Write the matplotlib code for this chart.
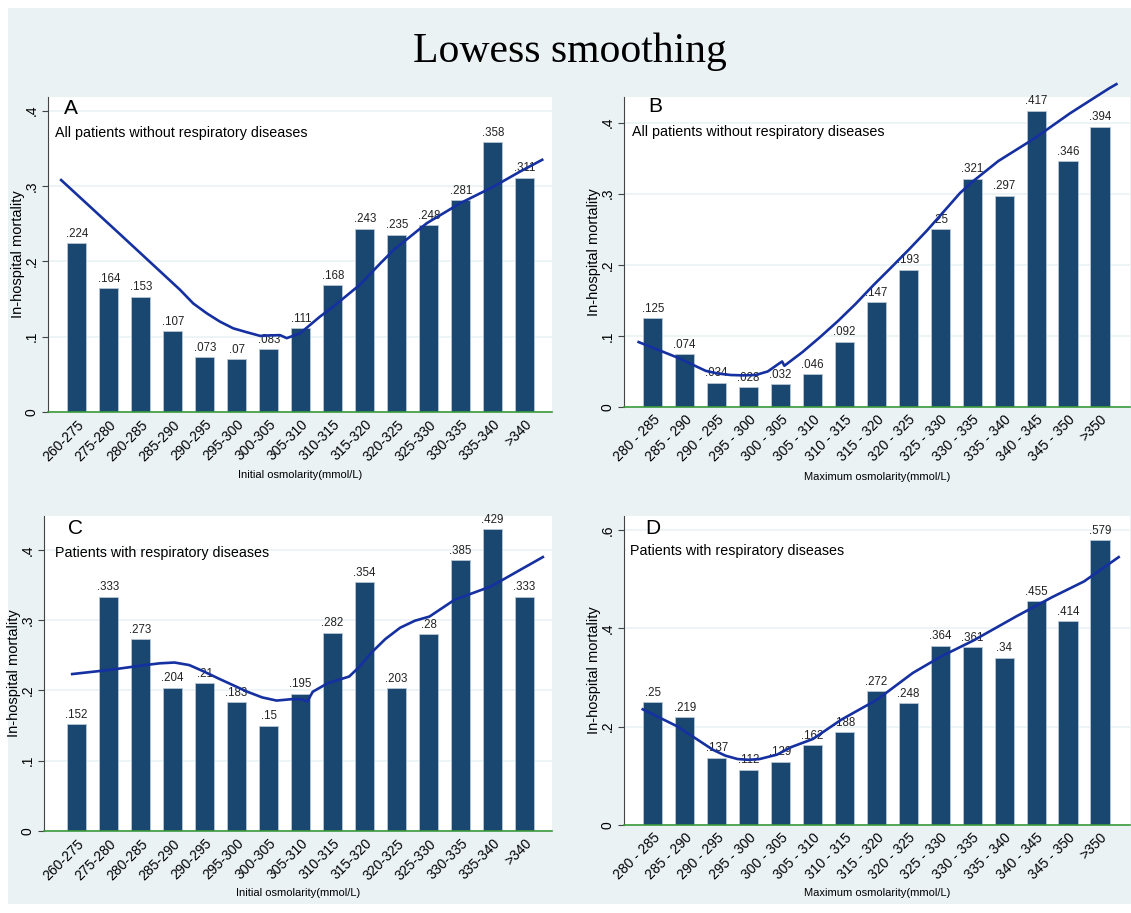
import matplotlib.pyplot as plt
from matplotlib.patches import Rectangle

W, H = 1131, 913

# osmolarity bins
init_bins = ['260-275', '275-280', '280-285', '285-290', '290-295', '295-300',
             '300-305', '305-310', '310-315', '315-320', '320-325', '325-330',
             '330-335', '335-340', '>340']
max_bins = ['280 - 285', '285 - 290', '290 - 295', '295 - 300', '300 - 305',
            '305 - 310', '310 - 315', '315 - 320', '320 - 325', '325 - 330',
            '330 - 335', '335 - 340', '340 - 345', '345 - 350', '>350']

# in-hospital mortality per bin
mort_a = [0.224, 0.164, 0.153, 0.107, 0.073, 0.07, 0.083, 0.111, 0.168, 0.243,
          0.235, 0.248, 0.281, 0.358, 0.311]
mort_b = [0.125, 0.074, 0.034, 0.028, 0.032, 0.046, 0.092, 0.147, 0.193, 0.25,
          0.321, 0.297, 0.417, 0.346, 0.394]
mort_c = [0.152, 0.333, 0.273, 0.204, 0.21, 0.183, 0.15, 0.195, 0.282, 0.354,
          0.203, 0.28, 0.385, 0.429, 0.333]
mort_d = [0.25, 0.219, 0.137, 0.112, 0.129, 0.162, 0.188, 0.272, 0.248, 0.364,
          0.361, 0.34, 0.455, 0.414, 0.579]

# lowess curves (x in bin index units)
low_a_x = [-0.52, 1.36, 3.23, 3.64, 4.06, 4.47, 4.89, 5.3, 5.73, 5.94, 6.35,
           6.56, 6.98, 7.60, 8.02, 8.85, 9.48, 9.9, 10.94, 11.98, 13.02, 13.85,
           14.58]
low_a_y = [0.309, 0.2355, 0.162, 0.144, 0.131, 0.120, 0.111, 0.106, 0.101,
           0.1015, 0.102, 0.098, 0.1045, 0.1266, 0.140, 0.169, 0.197, 0.215,
           0.2506, 0.277, 0.299, 0.319, 0.3355]
low_b_x = [-0.48, 0.77, 1.66, 2.05, 2.44, 2.83, 3.22, 3.6, 3.95, 4.05, 4.12,
           4.68, 5.23, 5.8, 6.35, 6.9, 7.47, 8.03, 8.58, 9.25, 9.62, 10.04,
           10.82, 11.94, 13.06, 14.28, 14.55]
low_b_y = [0.092, 0.0696, 0.0508, 0.047, 0.045, 0.0445, 0.045, 0.050, 0.061,
           0.064, 0.058, 0.077, 0.098, 0.121, 0.145, 0.171, 0.1965, 0.222,
           0.248, 0.282, 0.301, 0.318, 0.346, 0.3775, 0.413, 0.448, 0.455]
low_c_x = [-0.18, 1.01, 2.15, 2.6, 3.06, 3.52, 3.97, 4.43, 5.34, 5.8, 6.25,
           6.70, 7.04, 7.21, 7.38, 7.84, 8.52, 8.85, 9.2, 9.65, 10.11, 10.57,
           11.03, 11.82, 12.96, 13.87, 14.61]
low_c_y = [0.223, 0.229, 0.236, 0.2385, 0.2396, 0.236, 0.227, 0.217, 0.198,
           0.190, 0.1855, 0.1874, 0.1874, 0.184, 0.198, 0.210, 0.2197, 0.234,
           0.253, 0.273, 0.289, 0.299, 0.305, 0.329, 0.348, 0.3715, 0.3905]
low_d_x = [-0.35, 0.77, 1.88, 2.27, 2.66, 3.0, 3.34, 3.89, 4.34, 5.01, 5.9,
           7.02, 8.14, 9.03, 10.04, 11.38, 12.5, 13.5, 14.62]
low_d_y = [0.2363, 0.2004, 0.153, 0.141, 0.134, 0.1325, 0.134, 0.143, 0.1585,
           0.1747, 0.214, 0.2546, 0.309, 0.3427, 0.375, 0.424, 0.463, 0.495,
           0.546]

BG = '#eaf2f3'
BAR = '#1a476f'
LINE = '#1530a0'
SANS = 'Liberation Sans'

fig = plt.figure(figsize=(W / 100, H / 100), dpi=100)
fig.patch.set_facecolor('white')
fig.patches.append(Rectangle((8 / W, 1 - 904 / H), (W - 8) / W, 896 / H,
                             transform=fig.transFigure, facecolor=BG,
                             edgecolor='none', zorder=-1))


def fx(x):
    return x / W


def fy(y):
    return 1 - y / H


def fmt(v):
    if v == 0:
        return '0'
    return f'{v:.3f}'.rstrip('0').lstrip('0')


def panel(rect, bins, vals, lx, ly, ymax, yticks, xlim, letter, letter_xy,
          sub, sub_xy, xlabel, xlabel_y):
    left, right, top, bottom = rect
    ax = fig.add_axes([fx(left), fy(bottom), fx(right - left), (bottom - top) / H])
    ax.set_facecolor('white')
    xs = list(range(len(vals)))
    ax.bar(xs, vals, width=0.6, color=BAR, edgecolor='#b9c7d4', linewidth=0.6,
           zorder=2)
    for x, v in zip(xs, vals):
        ax.annotate(fmt(v), (x, v), xytext=(0, 2.5), textcoords='offset points',
                    ha='center', va='bottom', fontsize=8.3, color='#222222',
                    family=SANS, zorder=3)
    ax.plot(lx, ly, color=LINE, lw=1.9, zorder=4, clip_on=False,
            solid_capstyle='butt', solid_joinstyle='round')
    ax.set_xlim(*xlim)
    ax.set_ylim(0, ymax)
    ax.set_yticks(yticks)
    ax.set_yticklabels([fmt(t) for t in yticks], family=SANS, fontsize=10,
                       rotation=90, va='center')
    ax.set_xticks(xs)
    ax.set_xticklabels(bins, family=SANS, fontsize=10, rotation=45, ha='right',
                       rotation_mode='anchor')
    ax.tick_params(axis='x', length=0, pad=4)
    ax.tick_params(axis='y', length=4, width=0.8, color='#444444', pad=3)
    ax.yaxis.grid(True, color=BG, lw=1.2)
    ax.set_axisbelow(True)
    for s in ('top', 'right'):
        ax.spines[s].set_visible(False)
    ax.spines['left'].set_color('#444444')
    ax.spines['left'].set_linewidth(0.8)
    ax.spines['bottom'].set_color('#3a9a3a')
    ax.spines['bottom'].set_linewidth(1.2)
    ax.spines['bottom'].set_zorder(5)
    fig.text(fx(letter_xy[0]), fy(letter_xy[1]), letter, fontsize=15,
             family=SANS, va='center', ha='left')
    fig.text(fx(sub_xy[0]), fy(sub_xy[1]), sub, fontsize=10.3, family=SANS,
             va='center', ha='left')
    fig.text(fx(left - 30), fy((top + bottom) / 2), 'In-hospital mortality',
             fontsize=10.5, family=SANS, rotation=90, va='center', ha='center')
    fig.text(fx((left + right) / 2), fy(xlabel_y), xlabel, fontsize=8,
             family=SANS, va='center', ha='center')
    return ax


panel((48, 552, 97, 412), init_bins, mort_a, low_a_x, low_a_y, 0.418,
      [0, 0.1, 0.2, 0.3, 0.4], (-0.9, 14.85), 'A', (64, 108),
      'All patients without respiratory diseases', (55, 133),
      'Initial osmolarity(mmol/L)', 475)
panel((624, 1130, 97, 407), max_bins, mort_b, low_b_x, low_b_y, 0.436,
      [0, 0.1, 0.2, 0.3, 0.4], (-0.9, 14.94), 'B', (648, 107),
      'All patients without respiratory diseases', (632, 132),
      'Maximum osmolarity(mmol/L)', 477)
panel((44, 552, 516, 831), init_bins, mort_c, low_c_x, low_c_y, 0.448,
      [0, 0.1, 0.2, 0.3, 0.4], (-1.02, 14.86), 'C', (68, 528),
      'Patients with respiratory diseases', (55, 553),
      'Initial osmolarity(mmol/L)', 893)
panel((624, 1130, 516, 825), max_bins, mort_d, low_d_x, low_d_y, 0.628,
      [0, 0.2, 0.4, 0.6], (-0.9, 14.94), 'D', (645, 528),
      'Patients with respiratory diseases', (630, 551),
      'Maximum osmolarity(mmol/L)', 893)

fig.text(fx(570), fy(52), 'Lowess smoothing', fontsize=30,
         family='Liberation Serif', ha='center', va='center')

fig.savefig('out.png', dpi=100)
